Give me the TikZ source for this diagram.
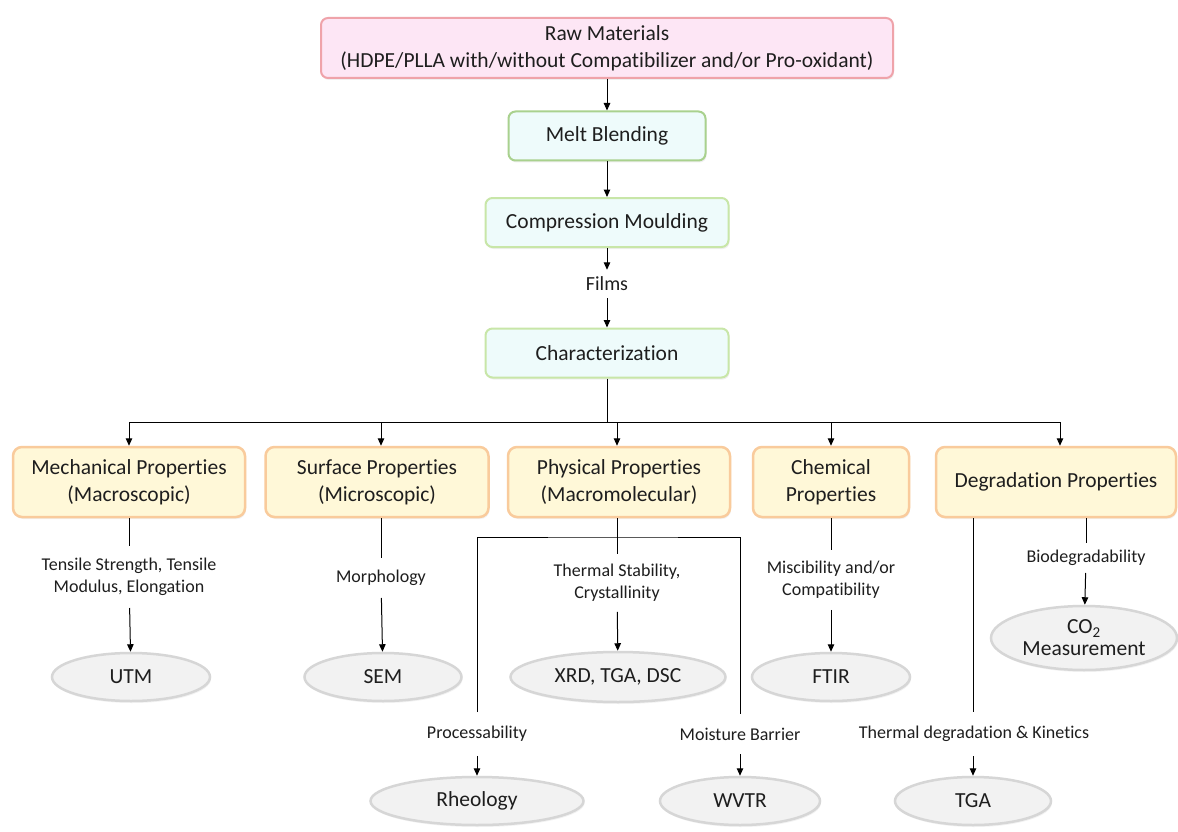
\documentclass[tikz,border=0pt]{standalone}
\usepackage{fontspec}
\setmainfont{Carlito}[Ligatures={NoCommon}]
\usetikzlibrary{arrows.meta,shapes.geometric,shadows}

\definecolor{rawfill}{HTML}{FDE6F5}
\definecolor{rawline}{HTML}{EFA3AA}
\definecolor{procfill}{HTML}{EEFBFB}
\definecolor{procline}{HTML}{C8E6A8}
\definecolor{meltline}{HTML}{A9D18E}
\definecolor{propfill}{HTML}{FFF8D8}
\definecolor{propline}{HTML}{F9CB9C}
\definecolor{measfill}{HTML}{F2F2F2}
\definecolor{measline}{HTML}{D6D6D6}
\definecolor{ink}{HTML}{1E1E1E}

\tikzset{
  boxfont/.style={font=\fontsize{21.5}{27}\selectfont},
  smallfont/.style={font=\fontsize{18}{22}\selectfont},
  rawbox/.style={boxfont, align=center, rounded corners=7pt, fill=rawfill, draw=rawline,
    line width=2pt, minimum width=572pt, minimum height=60pt, inner ysep=2pt, text=ink,
    drop shadow={opacity=0.12, shadow xshift=1pt, shadow yshift=-2pt}},
  procbox/.style={boxfont, align=center, rounded corners=7pt, fill=procfill, draw=procline,
    line width=2pt, minimum height=49pt, text=ink,
    drop shadow={opacity=0.12, shadow xshift=1pt, shadow yshift=-2pt}},
  propbox/.style={boxfont, align=center, rounded corners=9pt, fill=propfill, draw=propline,
    line width=2.5pt, minimum height=70pt, inner ysep=2pt, text=ink,
    drop shadow={opacity=0.10, shadow xshift=1pt, shadow yshift=-2pt}},
  meas/.style={boxfont, align=center, ellipse, fill=measfill, draw=measline,
    line width=2.5pt, inner sep=0pt, text=ink,
    drop shadow={opacity=0.10, shadow xshift=1pt, shadow yshift=-2pt}},
  lbl/.style={smallfont, align=center, text=ink, inner xsep=2pt, inner ysep=11pt},
  conn/.style={line width=1pt, draw=black},
  arr/.style={conn, -{Triangle[length=7.5pt,width=6.5pt]}},
}

\begin{document}
\begin{tikzpicture}[x=1pt, y=-1pt]
\useasboundingbox[fill=white] (0,0) rectangle (1178,832);

% processing chain
\node[rawbox] (raw) at (607,48) {Raw Materials\\(HDPE/PLLA with/without Compatibilizer and/or Pro-oxidant)};
\node[procbox, draw=meltline, minimum width=197pt] (melt) at (607,136) {Melt Blending};
\node[procbox, minimum width=243pt] (comp) at (607,222.5) {Compression Moulding};
\node[font=\fontsize{20}{22}\selectfont, text=ink, inner sep=7pt] (films) at (607,284) {Films};
\node[procbox, minimum width=243pt] (char) at (607,353) {Characterization};

\draw[arr] (raw) -- (melt);
\draw[arr] (melt) -- (comp);
\draw[arr] (comp) -- (films);
\draw[arr] (films) -- (char);

% property groups
\node[propbox, minimum width=232pt] (mech) at (129,482) {Mechanical Properties\\(Macroscopic)};
\node[propbox, minimum width=223pt] (surf) at (377,482) {Surface Properties\\(Microscopic)};
\node[propbox, minimum width=222pt] (phys) at (619,482) {Physical Properties\\(Macromolecular)};
\node[propbox, minimum width=156pt] (chem) at (831,482) {Chemical\\Properties};
\node[propbox, minimum width=240pt] (degr) at (1056,482) {Degradation Properties};

\coordinate (hub) at (607,422);
\draw[conn] (char) -- (hub);
\draw[arr] (hub) -| (mech);
\draw[arr] (hub) -| ([xshift=4pt]surf.north);
\draw[arr] (hub) -| ([xshift=-2pt]phys.north);
\draw[arr] (hub) -| (chem);
\draw[arr] (hub) -| ([xshift=4pt]degr.north);

% mechanical
\node[lbl, inner ysep=12pt] (tens) at (129,577) {Tensile Strength, Tensile\\Modulus, Elongation};
\node[meas, minimum width=158pt, minimum height=48pt] (utm) at (131,677) {UTM};
\draw[conn] (mech) -- (tens);
\draw[arr] (tens) -- (utm);

% surface
\node[lbl, inner ysep=12pt] (morph) at (381,578) {Morphology};
\node[meas, minimum width=157pt, minimum height=48pt] (sem) at (383,677) {SEM};
\draw[conn] (surf.south -| morph) -- (morph);
\draw[arr] (morph) -- (sem);

% physical
\node[lbl, inner ysep=10pt] (therm) at (617,583) {Thermal Stability,\\Crystallinity};
\node[meas, minimum width=215pt, minimum height=50pt] (xrd) at (618,677) {XRD, TGA, DSC};
\draw[conn] (phys.south -| therm) -- (therm);
\draw[arr] (therm) -- (xrd);

\coordinate (brk) at (617,537);
\node[lbl, inner ysep=14pt] (procs) at (477,734) {Processability};
\node[lbl, inner ysep=14pt] (moist) at (740,734) {Moisture Barrier};
\node[meas, minimum width=213pt, minimum height=48pt] (rheo) at (477,801) {Rheology};
\node[meas, minimum width=160pt, minimum height=48pt] (wvtr) at (740,801) {WVTR};
\draw[conn] (procs) |- (brk) -| (moist);
\draw[arr] (procs) -- (rheo);
\draw[arr] (moist) -- (wvtr);

% chemical
\node[lbl, inner ysep=11pt] (misc) at (831,580) {Miscibility and/or\\Compatibility};
\node[meas, minimum width=158pt, minimum height=48pt] (ftir) at (831,677) {FTIR};
\draw[conn] (chem) -- (misc);
\draw[arr] (misc) -- (ftir);

% degradation
\node[lbl, inner ysep=7pt] (biod) at (1086,558) {Biodegradability};
\node[meas, minimum width=186pt, minimum height=64pt] (co2) at (1084,638) {CO\textsubscript{2}\\[-5pt]Measurement};
\draw[conn] (degr.south -| biod) -- (biod);
\draw[arr] (biod) -- (co2);

\node[lbl, inner ysep=14pt] (kin) at (974,734) {Thermal degradation \& Kinetics};
\node[meas, minimum width=156pt, minimum height=48pt] (tga) at (973,801) {TGA};
\draw[conn] (degr.south -| tga) -- (kin.north -| tga);
\draw[arr] (kin.south -| tga) -- (tga);
\end{tikzpicture}
\end{document}
